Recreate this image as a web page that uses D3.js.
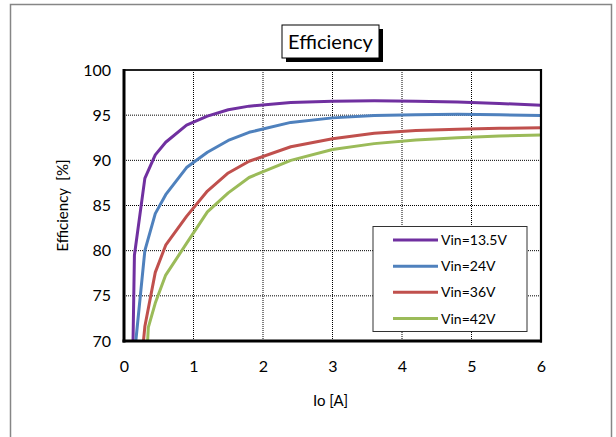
<!DOCTYPE html>
<html><head><meta charset="utf-8">
<script src="https://cdn.jsdelivr.net/npm/d3@7"></script>
<style>body{margin:0;background:#fff}svg{display:block}text{font-family:Lato,"Noto Sans",sans-serif;fill:#000;white-space:pre}</style>
</head><body><svg id="c" width="616" height="437"></svg>
<script>
const seriesNames = ["Vin=13.5V","Vin=24V","Vin=36V","Vin=42V"];
const seriesColors = ["#7030A0","#4F81BD","#C0504D","#9BBB59"];
const x135 = [0.13,0.15,0.3,0.45,0.6,0.9,1.2,1.5,1.8,2.4,3.0,3.6,4.2,4.8,5.4,6.0];
const y135 = [70,79.5,88.0,90.6,92.0,93.9,94.9,95.6,96.0,96.4,96.55,96.6,96.55,96.45,96.3,96.1];
const x24 = [0.17,0.3,0.45,0.6,0.9,1.2,1.5,1.8,2.4,3.0,3.6,4.2,4.8,5.4,6.0];
const y24 = [70,80.0,84.1,86.2,89.2,90.9,92.2,93.1,94.2,94.7,94.95,95.05,95.1,95.05,94.95];
const x36 = [0.28,0.3,0.45,0.6,0.9,1.2,1.5,1.8,2.4,3.0,3.6,4.2,4.8,5.4,6.0];
const y36 = [70,71.6,77.6,80.6,83.8,86.6,88.6,89.9,91.5,92.4,93.0,93.3,93.45,93.55,93.6];
const x42 = [0.34,0.35,0.45,0.6,0.9,1.2,1.5,1.8,2.4,3.0,3.6,4.2,4.8,5.4,6.0];
const y42 = [70,71.5,74.2,77.3,80.8,84.3,86.4,88.1,90.0,91.2,91.85,92.25,92.5,92.7,92.8];
const xTicks = [0,1,2,3,4,5,6];
const yTicks = [70,75,80,85,90,95,100];
const title = "Efficiency";
const xLabel = "Io [A]";
const yLabel = "Efficiency  [%]";

const series = [[x135,y135],[x24,y24],[x36,y36],[x42,y42]].map((s,i)=>({
  name: seriesNames[i], color: seriesColors[i], pts: s[0].map((v,j)=>[v,s[1][j]])
}));

const svg = d3.select("#c");
svg.append("rect").attr("x",10.5).attr("y",4.5).attr("width",601).attr("height",440)
  .attr("fill","#fff").attr("stroke","#868686").attr("stroke-width",1.5);

const L=124, R=541, T=70, B=341;
const x = d3.scaleLinear().domain([0,6]).range([L,R]);
const y = d3.scaleLinear().domain([70,100]).range([B,T]);

const g = svg.append("g");
g.selectAll(".vx").data(xTicks.slice(1,-1)).join("line")
  .attr("x1",d=>x(d)).attr("x2",d=>x(d)).attr("y1",T).attr("y2",B)
  .attr("stroke","#000").attr("stroke-width",1).attr("stroke-dasharray","1,1");
g.selectAll(".hy").data(yTicks.slice(1,-1)).join("line")
  .attr("x1",L).attr("x2",R).attr("y1",d=>y(d)).attr("y2",d=>y(d))
  .attr("stroke","#000").attr("stroke-width",1).attr("stroke-dasharray","1,1");

const xAxis = svg.append("g").attr("transform",`translate(0,${B})`)
  .call(d3.axisBottom(x).tickValues(xTicks).tickFormat(d3.format("d")).tickSize(0).tickPadding(14));
const yAxis = svg.append("g").attr("transform",`translate(${L},0)`)
  .call(d3.axisLeft(y).tickValues(yTicks).tickFormat(d3.format("d")).tickSize(0).tickPadding(13));
[xAxis,yAxis].forEach(a=>{a.select(".domain").remove();
  a.selectAll("text").style("font-family","Lato,'Noto Sans',sans-serif").style("font-size","16px").attr("fill","#000");});
xAxis.selectAll("text").attr("dy","0.71em").attr("y",20);

const line = d3.line().x(d=>x(d[0])).y(d=>y(d[1]));
svg.append("g").selectAll("path").data(series).join("path")
  .attr("d",d=>line(d.pts)).attr("fill","none").attr("stroke",d=>d.color)
  .attr("stroke-width",3).attr("stroke-linejoin","round");

svg.append("line").attr("x1",L).attr("x2",R).attr("y1",T).attr("y2",T).attr("stroke","#222").attr("stroke-width",2);
svg.append("line").attr("x1",R).attr("x2",R).attr("y1",T-1).attr("y2",B+1.5).attr("stroke","#000").attr("stroke-width",2.2);
svg.append("line").attr("x1",L).attr("x2",L).attr("y1",T-1).attr("y2",B+1.5).attr("stroke","#000").attr("stroke-width",3);
svg.append("line").attr("x1",L-1.5).attr("x2",R+1).attr("y1",B).attr("y2",B).attr("stroke","#000").attr("stroke-width",3);

svg.append("text").attr("x",(L+R)/2-2).attr("y",406).attr("text-anchor","middle")
  .style("font-size","15px").text(xLabel);
svg.append("text").attr("transform",`translate(68,${(T+B)/2}) rotate(-90)`).attr("text-anchor","middle")
  .style("font-size","15px").text(yLabel);

svg.append("rect").attr("x",286).attr("y",29).attr("width",97).attr("height",33).attr("fill","#000");
svg.append("rect").attr("x",282).attr("y",25).attr("width",97).attr("height",33)
  .attr("fill","#fff").attr("stroke","#000").attr("stroke-width",1);
svg.append("text").attr("x",330.5).attr("y",49).attr("text-anchor","middle")
  .style("font-size","20px").text(title);

const lg = svg.append("g");
lg.append("rect").attr("x",373).attr("y",226.5).attr("width",154).attr("height",105)
  .attr("fill","#fff").attr("stroke","#333").attr("stroke-width",1);
const ly = d3.scalePoint().domain(seriesNames).range([240,318.5]);
lg.selectAll("line").data(series).join("line")
  .attr("x1",393).attr("x2",438).attr("y1",d=>ly(d.name)).attr("y2",d=>ly(d.name))
  .attr("stroke",d=>d.color).attr("stroke-width",3);
lg.selectAll("text").data(series).join("text")
  .attr("x",441).attr("y",d=>ly(d.name)+5).style("font-size","14px").text(d=>d.name);
</script></body></html>
